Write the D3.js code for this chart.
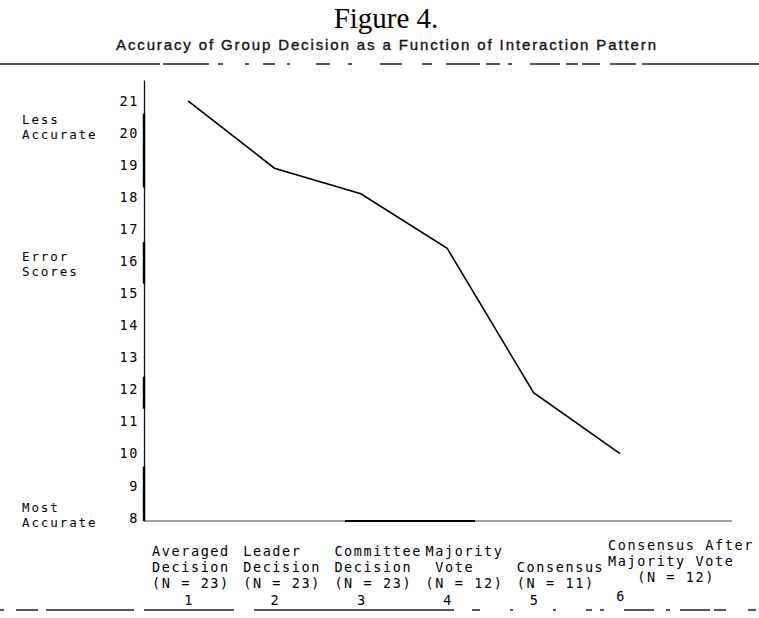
<!DOCTYPE html>
<html>
<head>
<meta charset="utf-8">
<script src="https://cdn.jsdelivr.net/npm/d3@7/dist/d3.min.js"></script>
<style>
body { margin: 0; background: #fff; }
svg { display: block; }
.tw { font-family: "DejaVu Sans Mono", monospace; font-size: 13.5px; letter-spacing: 1.6px; fill: #000; white-space: pre; }
.note { font-size: 12.5px; letter-spacing: 1.9px; }
</style>
</head>
<body>
<div id="chart"></div>
<script>
// interaction patterns, 1..6
var patterns = [1, 2, 3, 4, 5, 6];
// mean error scores
var errorScores = [21.0, 18.9, 18.1, 16.4, 11.9, 10.0];
var patternLabels = [
    ["Averaged", "Decision", "(N = 23)"],
    ["Leader", "Decision", "(N = 23)"],
    ["Committee", "Decision", "(N = 23)"],
    ["Majority", " Vote", "(N = 12)"],
    ["", "Consensus", "(N = 11)"],
    ["Consensus After", "Majority Vote", "   (N = 12)"]
];
var yTicks = [8, 9, 10, 11, 12, 13, 14, 15, 16, 17, 18, 19, 20, 21];
var yNotes = [["Less", "Accurate"], ["Error", "Scores"], ["Most", "Accurate"]];
var yNoteAt = [20.2, 15.9, 8.1];

var W = 759, H = 618;
var plot = { left: 144, right: 732, top: 80, bottom: 521 };

var svg = d3.select("#chart").append("svg").attr("width", W).attr("height", H);

var y = d3.scaleLinear().domain([7.9, 21.65]).range([plot.bottom, plot.top]);
var x = d3.scalePoint().domain(patterns).range([188, 620]);
var col = d3.scalePoint().domain(patterns).range([152, 608]);

// titles
svg.append("text").attr("x", 386).attr("y", 28).attr("text-anchor", "middle")
    .style("font-family", "'Liberation Serif', serif").style("font-size", "29px").text("Figure 4.");
svg.append("text").attr("x", 116).attr("y", 50).attr("textLength", 540).attr("lengthAdjust", "spacing")
    .style("font-family", "'Liberation Sans', sans-serif").style("font-size", "15px")
    .style("fill", "#111").style("stroke", "#111").style("stroke-width", 0.35)
    .text("Accuracy of Group Decision as a Function of Interaction Pattern");

// broken rules from the scan
svg.append("line").attr("x1", 0).attr("x2", W).attr("y1", 64).attr("y2", 64)
    .attr("stroke", "#222").attr("stroke-width", 1.3)
    .attr("stroke-dasharray", "160,3,46,9,5,22,4,14,12,12,3,26,14,18,4,28,22,20,10,14,34,6,14,8,4,18,30,6,12,4,18,10,26,6,200");
svg.append("line").attr("x1", 0).attr("x2", W).attr("y1", 610).attr("y2", 610)
    .attr("stroke", "#222").attr("stroke-width", 1.3)
    .attr("stroke-dasharray", "4,12,22,8,88,10,90,20,200,18,8,30,3,40,3,30,6,8,4,20,30,12,4,10,30");

// y axis
var yAxis = svg.append("g").attr("transform", "translate(" + plot.left + ",0)")
    .call(d3.axisLeft(y).tickValues(yTicks).tickSize(0).tickPadding(5).tickFormat(d3.format("d")));
yAxis.select(".domain").attr("stroke", "#111").attr("stroke-width", 1.3);
yAxis.selectAll("text").attr("class", "tw").attr("font-family", null).attr("font-size", null);

// heavier ink on the axis
[[20.6, 18.3], [16.6, 15.3], [12.4, 11.4], [9.6, 7.9]].forEach(function(r) {
    svg.append("line").attr("x1", plot.left).attr("x2", plot.left)
        .attr("y1", y(r[0])).attr("y2", y(r[1])).attr("stroke", "#000").attr("stroke-width", 2.4);
});

// x axis line
svg.append("line").attr("x1", plot.left).attr("x2", plot.right).attr("y1", plot.bottom).attr("y2", plot.bottom)
    .attr("stroke", "#444").attr("stroke-width", 1.2);
svg.append("line").attr("x1", 345).attr("x2", 475).attr("y1", plot.bottom).attr("y2", plot.bottom)
    .attr("stroke", "#000").attr("stroke-width", 2.2);

// side notes
yNotes.forEach(function(n, i) {
    n.forEach(function(s, j) {
        svg.append("text").attr("class", "tw note").attr("x", 22)
            .attr("y", y(yNoteAt[i]) - 3 + j * 15).text(s);
    });
});

// the line
var line = d3.line().x(function(d, i) { return x(patterns[i]); }).y(function(d) { return y(d); });
svg.append("path").datum(errorScores).attr("d", line)
    .attr("fill", "none").attr("stroke", "#000").attr("stroke-width", 1.6);

// category labels
patternLabels.forEach(function(lines, i) {
    var top = i === 5 ? 550 : 556;
    lines.forEach(function(s, j) {
        if (!s) return;
        svg.append("text").attr("class", "tw").attr("x", col(patterns[i])).attr("y", top + j * 16).text(s);
    });
});
svg.selectAll(".num").data(patterns).enter().append("text").attr("class", "tw num")
    .attr("x", function(d) { return x(d) + 1; }).attr("y", function(d, i) { return i === 5 ? 601 : 605; })
    .attr("text-anchor", "middle").text(function(d) { return d; });
</script>
</body>
</html>
